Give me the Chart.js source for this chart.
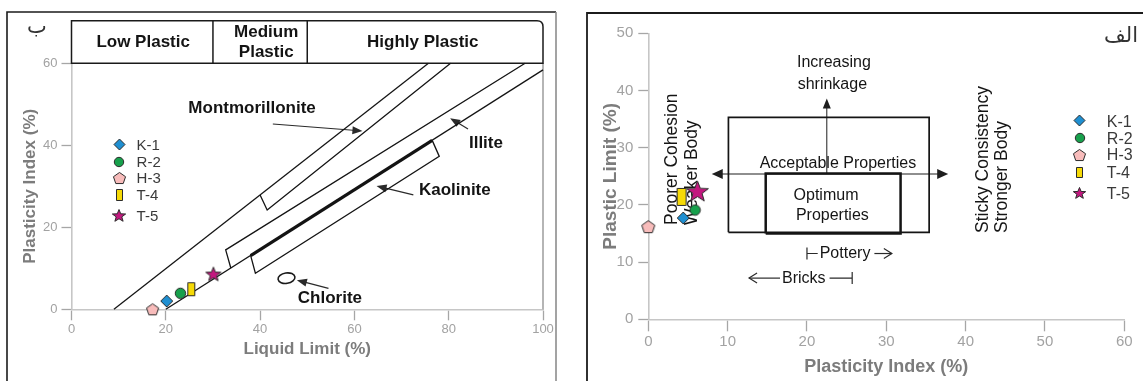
<!DOCTYPE html>
<html>
<head>
<meta charset="utf-8">
<title>Plasticity charts</title>
<script src="https://cdn.jsdelivr.net/npm/chart.js@4.4.1/dist/chart.umd.min.js"></script>
<style>
  html, body { margin: 0; padding: 0; background: #ffffff; }
  #page { position: relative; width: 1143px; height: 381px; overflow: hidden; background: #fff; }
  #page canvas { position: absolute; top: 0; }
  #plasticityChart { left: 0; }
  #workabilityChart { left: 575px; }
</style>
</head>
<body>
<div id="page">
  <canvas id="plasticityChart" width="575" height="381"></canvas>
  <canvas id="workabilityChart" width="568" height="381"></canvas>
</div>
<script>
// ---- values ----
const samples = ["K-1", "R-2", "H-3", "T-4", "T-5"];
const sampleShapes = ["diamond", "circle", "pentagon", "bar", "star"];
const sampleColors = ["#1f8fd1", "#17a04c", "#f8bcbb", "#f6da07", "#c3187f"];

// left panel: liquid limit vs plasticity index
const liquidLimit = [20.2, 23.1, 17.2, 25.4, 30.1];
const plasticityIndexL = [2.0, 3.9, 0.0, 4.9, 8.6];

// right panel: plasticity index vs plastic limit
const plasticityIndexR = [4.4, 5.9, 0.0, 4.2, 6.2];
const plasticLimit = [17.7, 19.1, 16.2, 21.4, 22.4];

// guide lines of the left panel, [LL, PI]
const uLine = [[9, 0], [75.7, 60]];
const aLine = [[20, 0], [100, 58.4]];
const aLineKaolinite = [[38, 13.1], [76.5, 41.2]];
const montmorilloniteBand = [[40, 27.9], [41.5, 24.2], [80.4, 60]];
const illiteBand = [[33.8, 10.0], [32.7, 14.5], [96.2, 60]];
const kaoliniteBox = [[38, 13.1], [39, 8.8], [78, 37.3], [76.5, 41.2]];

const plasticClasses = ["Low Plastic", "Medium\nPlastic", "Highly Plastic"];
const classBounds = [0, 30, 50, 100];
const classLabelLL = [15.2, 41.3, 74.5];

const mineralNames = ["Montmorillonite", "Illite", "Kaolinite", "Chlorite"];
const mineralLabelAt = [[38.3, 49.1], [87.9, 40.6], [81.3, 28.9], [54.8, 2.8]];
const mineralArrows = [
  [[42.7, 45.2], [61.7, 43.5]],
  [[84.1, 44.0], [80.3, 46.6]],
  [[72.5, 27.9], [64.7, 30.1]],
  [[54.5, 5.1], [47.8, 7.1]]
];
const chloriteLoop = [45.6, 7.6];
const leftLegendLL = [10.1, 13.8];
const leftLegendPI = [40.2, 36.0, 32.0, 27.9, 22.8];

// right panel zones, [PI, PL]
const acceptableBox = [[10.1, 15.2], [35.4, 15.2], [35.4, 35.3], [10.1, 35.3], [10.1, 15.2]];
const optimumBox = [[14.8, 15.0], [31.8, 15.0], [31.8, 25.5], [14.8, 25.5], [14.8, 15.0]];
const shrinkageArrow = [[22.5, 25.4], [22.5, 38.6]];
const cohesionArrow = [[8.0, 25.4], [37.8, 25.4]];
const zoneTexts = [
  ["Increasing", 23.4, 44.8],
  ["shrinkage", 23.2, 41.0],
  ["Acceptable Properties", 23.9, 27.3],
  ["Optimum", 22.4, 21.7],
  ["Properties", 23.2, 18.1]
];
const sideTexts = [
  ["Poorer Cohesion", 2.95, 16.5],
  ["Weaker Body", 5.5, 16.5],
  ["Sticky Consistency", 42.2, 15.1],
  ["Stronger Body", 44.6, 15.1]
];
const potteryRange = [20.0, 24.8, 30.7, 11.5];   // bar, label, arrow tip, PL
const bricksRange = [12.7, 19.6, 25.7, 7.2];     // arrow tip, label, bar, PL
const rightLegendPI = [54.4, 57.8];
const rightLegendPL = [34.7, 31.7, 28.8, 25.7, 22.1];

// ---- styles ----
const FONT = "'Liberation Sans', Arial, Helvetica, sans-serif";
const leftMarkerSize = [[12, 12], [11, 11], [13, 12], [8, 14], [16, 15]];
const rightMarkerSize = [[12, 12], [11, 11], [14, 13], [10, 18], [23, 22]];
const leftKeySize = [[11, 11], [10, 10], [13, 12], [7, 12], [14, 13]];
const rightKeySize = [[11, 11], [10, 10], [13, 12], [7, 11], [13, 12]];

function makeMarker(shape, color, w, h) {
    const c = document.createElement("canvas");
    c.width = w + 2;
    c.height = h + 2;
    const g = c.getContext("2d");
    const cx = c.width / 2, cy = c.height / 2, rx = w / 2, ry = h / 2;
    g.fillStyle = color;
    g.strokeStyle = "#2b2b2b";
    g.lineWidth = 1;
    g.beginPath();
    if (shape === "diamond") {
        g.moveTo(cx, cy - ry); g.lineTo(cx + rx, cy); g.lineTo(cx, cy + ry); g.lineTo(cx - rx, cy);
    } else if (shape === "circle") {
        g.ellipse(cx, cy, rx - 0.3, ry - 0.3, 0, 0, Math.PI * 2);
    } else if (shape === "pentagon") {
        for (let i = 0; i < 5; i++) {
            const a = -Math.PI / 2 + i * 2 * Math.PI / 5;
            const x = cx + rx * 0.98 * Math.cos(a), y = cy + ry * 0.1 + ry * 1.02 * Math.sin(a);
            i ? g.lineTo(x, y) : g.moveTo(x, y);
        }
    } else if (shape === "bar") {
        g.rect(cx - rx + 0.5, cy - ry + 0.5, w - 1, h - 1);
    } else if (shape === "star") {
        for (let i = 0; i < 10; i++) {
            const a = -Math.PI / 2 + i * Math.PI / 5;
            const k = i % 2 ? 0.42 : 1;
            const x = cx + rx * k * Math.cos(a), y = cy + ry * 0.08 + ry * k * Math.sin(a);
            i ? g.lineTo(x, y) : g.moveTo(x, y);
        }
    }
    g.closePath();
    g.fill();
    g.stroke();
    return c;
}

function makeSet(sizes) {
    return samples.map((s, i) => makeMarker(sampleShapes[i], sampleColors[i], sizes[i][0], sizes[i][1]));
}

const leftMarkers = makeSet(leftMarkerSize);
const rightMarkers = makeSet(rightMarkerSize);
const leftKeys = makeSet(leftKeySize);
const rightKeys = makeSet(rightKeySize);

// Helpers
function guide(points, width) {
    return {
        data: points.map(p => ({ x: p[0], y: p[1] })),
        showLine: true,
        borderColor: "#141414",
        borderWidth: width,
        pointRadius: 0,
        pointHoverRadius: 0,
        fill: false,
        clip: false,
        order: 2
    };
}

function sampleSets(xs, ys, markers) {
    return samples.map((name, i) => ({
        label: name,
        data: [{ x: xs[i], y: ys[i] }],
        pointStyle: markers[i],
        pointRadius: 8,
        pointHoverRadius: 8,
        clip: false,
        order: 0
    }));
}

function label(ctx, str, x, y, size, opts = {}) {
    ctx.save();
    ctx.font = (opts.bold ? "bold " : "") + size + "px " + (opts.family || FONT);
    ctx.fillStyle = opts.color || "#111";
    ctx.textAlign = opts.align || "center";
    ctx.textBaseline = "middle";
    ctx.translate(x, y);
    if (opts.rotate) ctx.rotate(opts.rotate);
    ctx.fillText(str, 0, 0);
    ctx.restore();
}

function arrow(ctx, x1, y1, x2, y2, opts = {}) {
    const len = opts.head || 9, half = opts.half || 3.5;
    const a = Math.atan2(y2 - y1, x2 - x1);
    ctx.save();
    ctx.strokeStyle = ctx.fillStyle = opts.color || "#222";
    ctx.lineWidth = opts.width || 1.1;
    ctx.beginPath();
    ctx.moveTo(x1, y1);
    ctx.lineTo(x2 - (opts.open ? 0 : Math.cos(a) * len * 0.6), y2 - (opts.open ? 0 : Math.sin(a) * len * 0.6));
    ctx.stroke();
    const bx = x2 - Math.cos(a) * len, by = y2 - Math.sin(a) * len;
    const nx = -Math.sin(a) * half, ny = Math.cos(a) * half;
    ctx.beginPath();
    ctx.moveTo(bx + nx, by + ny);
    ctx.lineTo(x2, y2);
    ctx.lineTo(bx - nx, by - ny);
    if (opts.open) {
        ctx.stroke();
    } else {
        ctx.closePath();
        ctx.fill();
    }
    ctx.restore();
}

function scaleOptions(min, max, step, title, o) {
    return {
        type: "linear",
        min: min,
        max: max,
        ticks: { stepSize: step, color: "#a2a2a2", font: { family: FONT, size: o.tickSize }, padding: o.tickPad },
        grid: { display: true, drawOnChartArea: false, tickLength: o.tickLen, tickColor: "#a6a6a6", tickWidth: 1.3 },
        border: { display: true, color: "#c6c6c6", width: 1.6 },
        title: { display: true, text: title, color: "#7c7c7c", font: { family: FONT, size: o.titleSize, weight: "bold" }, padding: o.titlePad },
        afterFit: o.fit
    };
}

// Left panel decorations
const plasticityDecor = {
    id: "plasticityDecor",
    beforeDatasetsDraw(chart) {
        const { ctx, chartArea: area } = chart;
        const xs = chart.scales.x, ys = chart.scales.y;
        const P = (v) => [xs.getPixelForValue(v[0]), ys.getPixelForValue(v[1])];

        ctx.save();
        // outer frame
        ctx.strokeStyle = "#1b1b1b";
        ctx.lineWidth = 1.6;
        ctx.beginPath();
        ctx.moveTo(7, 390); ctx.lineTo(7, 12); ctx.lineTo(556, 12);
        ctx.stroke();
        ctx.strokeStyle = "#8c8c8c";
        ctx.beginPath();
        ctx.moveTo(556, 12); ctx.lineTo(556, 390);
        ctx.stroke();
        // right border of the plot
        ctx.strokeStyle = "#9c9c9c";
        ctx.lineWidth = 1.5;
        ctx.beginPath();
        ctx.moveTo(area.right, area.top); ctx.lineTo(area.right, area.bottom);
        ctx.stroke();

        // plasticity class header
        const hTop = 20.7, hBot = area.top;
        const hl = xs.getPixelForValue(classBounds[0]);
        const hr = xs.getPixelForValue(classBounds[classBounds.length - 1]);
        const rad = 6;
        ctx.strokeStyle = "#1a1a1a";
        ctx.lineWidth = 1.5;
        ctx.beginPath();
        ctx.moveTo(hl, hBot); ctx.lineTo(hl, hTop); ctx.lineTo(hr - rad, hTop);
        ctx.quadraticCurveTo(hr, hTop, hr, hTop + rad);
        ctx.lineTo(hr, hBot); ctx.closePath();
        ctx.stroke();
        classBounds.slice(1, -1).forEach(b => {
            const x = xs.getPixelForValue(b);
            ctx.beginPath(); ctx.moveTo(x, hTop); ctx.lineTo(x, hBot); ctx.stroke();
        });
        const hMid = (hTop + hBot) / 2;
        plasticClasses.forEach((name, i) => {
            const lines = name.split("\n");
            const x = xs.getPixelForValue(classLabelLL[i]);
            lines.forEach((ln, j) => {
                label(ctx, ln, x, hMid + (j - (lines.length - 1) / 2) * 20, 17, { bold: true, color: "#141414" });
            });
        });

        // mineral labels and pointers
        mineralNames.forEach((name, i) => {
            const [x, y] = P(mineralLabelAt[i]);
            label(ctx, name, x, y, 17, { bold: true, color: "#141414" });
            const [a, b] = mineralArrows[i];
            const [x1, y1] = P(a), [x2, y2] = P(b);
            arrow(ctx, x1, y1, x2, y2, { head: 10, half: 4, color: "#2a2a2a", width: 1.2 });
        });
        const [lx, ly] = P(chloriteLoop);
        ctx.strokeStyle = "#1a1a1a";
        ctx.lineWidth = 1.6;
        ctx.beginPath();
        ctx.ellipse(lx, ly, 8.5, 5.2, -0.15, 0, Math.PI * 2);
        ctx.stroke();

        // Arabic panel letter
        label(ctx, "ب", 37, 28, 21, { family: "'DejaVu Sans', 'Noto Sans', sans-serif", color: "#333" });
        ctx.restore();
    },
    afterDatasetsDraw(chart) {
        const { ctx } = chart;
        const xs = chart.scales.x, ys = chart.scales.y;
        const mx = xs.getPixelForValue(leftLegendLL[0]), tx = xs.getPixelForValue(leftLegendLL[1]);
        samples.forEach((name, i) => {
            const y = ys.getPixelForValue(leftLegendPI[i]);
            const k = leftKeys[i];
            ctx.drawImage(k, Math.round(mx - k.width / 2), Math.round(y - k.height / 2));
            label(ctx, name, tx, y + 1, 15, { align: "left", color: "#3a3a3a" });
        });
    }
};

// Right panel decorations
const workabilityDecor = {
    id: "workabilityDecor",
    beforeDatasetsDraw(chart) {
        const { ctx } = chart;
        const xs = chart.scales.x, ys = chart.scales.y;
        const P = (v) => [xs.getPixelForValue(v[0]), ys.getPixelForValue(v[1])];

        ctx.save();
        ctx.strokeStyle = "#1b1b1b";
        ctx.lineWidth = 1.8;
        ctx.beginPath();
        ctx.moveTo(12, 390); ctx.lineTo(12, 13); ctx.lineTo(580, 13);
        ctx.stroke();

        zoneTexts.forEach(t => {
            const [x, y] = P([t[1], t[2]]);
            label(ctx, t[0], x, y, 16, { color: "#151515" });
        });
        sideTexts.forEach(t => {
            const [x, y] = P([t[1], t[2]]);
            label(ctx, t[0], x, y, 17.5, { color: "#151515", align: "left", rotate: -Math.PI / 2 });
        });

        // shrinkage and cohesion arrows
        let [a, b] = shrinkageArrow.map(P);
        arrow(ctx, a[0], a[1], b[0], b[1], { head: 10, half: 4, color: "#1e1e1e", width: 1 });
        [a, b] = cohesionArrow.map(P);
        arrow(ctx, (a[0] + b[0]) / 2, a[1], a[0], a[1], { head: 11, half: 5, color: "#1e1e1e", width: 1.2 });
        arrow(ctx, (a[0] + b[0]) / 2, b[1], b[0], b[1], { head: 11, half: 5, color: "#1e1e1e", width: 1.2 });

        // pottery / bricks ranges
        ctx.font = "16px " + FONT;
        const py = ys.getPixelForValue(potteryRange[3]);
        const pBar = xs.getPixelForValue(potteryRange[0]), pMid = xs.getPixelForValue(potteryRange[1]), pTip = xs.getPixelForValue(potteryRange[2]);
        const pw = ctx.measureText("Pottery").width;
        label(ctx, "Pottery", pMid, py, 16, { color: "#151515" });
        ctx.strokeStyle = "#2a2a2a";
        ctx.lineWidth = 1.2;
        ctx.beginPath();
        ctx.moveTo(pBar, py - 6); ctx.lineTo(pBar, py + 6);
        ctx.moveTo(pBar, py); ctx.lineTo(pMid - pw / 2 - 2, py);
        ctx.stroke();
        arrow(ctx, pMid + pw / 2 + 4, py, pTip, py, { open: true, head: 8, half: 5, color: "#2a2a2a", width: 1.2 });

        const by = ys.getPixelForValue(bricksRange[3]);
        const bTip = xs.getPixelForValue(bricksRange[0]), bMid = xs.getPixelForValue(bricksRange[1]), bBar = xs.getPixelForValue(bricksRange[2]);
        const bw = ctx.measureText("Bricks").width;
        label(ctx, "Bricks", bMid, by, 16, { color: "#151515" });
        arrow(ctx, bMid - bw / 2 - 2, by, bTip, by, { open: true, head: 8, half: 5, color: "#2a2a2a", width: 1.2 });
        ctx.beginPath();
        ctx.moveTo(bMid + bw / 2 + 4, by); ctx.lineTo(bBar, by);
        ctx.moveTo(bBar, by - 6); ctx.lineTo(bBar, by + 6);
        ctx.stroke();

        label(ctx, "الف", 546, 37, 21, { family: "'DejaVu Sans', 'Noto Sans', sans-serif", color: "#333" });
        ctx.restore();
    },
    afterDatasetsDraw(chart) {
        const { ctx } = chart;
        const xs = chart.scales.x, ys = chart.scales.y;
        const mx = xs.getPixelForValue(rightLegendPI[0]), tx = xs.getPixelForValue(rightLegendPI[1]);
        samples.forEach((name, i) => {
            const y = ys.getPixelForValue(rightLegendPL[i]);
            const k = rightKeys[i];
            ctx.drawImage(k, Math.round(mx - k.width / 2), Math.round(y - k.height / 2));
            label(ctx, name, tx, y + 1.5, 16, { align: "left", color: "#3a3a3a" });
        });
    }
};

Chart.defaults.font.family = FONT;

new Chart(document.getElementById("plasticityChart"), {
    type: "scatter",
    data: {
        datasets: [
            ...sampleSets(liquidLimit, plasticityIndexL, leftMarkers),
            guide(uLine, 1.3),
            guide(aLine, 1.3),
            guide(aLineKaolinite, 3.2),
            guide(montmorilloniteBand, 1.3),
            guide(illiteBand, 1.3),
            guide(kaoliniteBox, 1.3)
        ]
    },
    options: {
        responsive: false,
        animation: false,
        events: [],
        layout: { padding: { left: 0, top: 63.3, right: 32, bottom: 0 } },
        plugins: { legend: { display: false }, tooltip: { enabled: false } },
        scales: {
            x: scaleOptions(0, 100, 20, "Liquid Limit (%)", {
                tickSize: 13, tickPad: 1, tickLen: 11, titleSize: 17,
                titlePad: { top: 0, bottom: 21 }, fit: s => { s.height = 71.7; }
            }),
            y: scaleOptions(0, 60, 20, "Plasticity Index (%)", {
                tickSize: 13, tickPad: 4, tickLen: 10, titleSize: 17,
                titlePad: { top: 20, bottom: 0 }, fit: s => { s.width = 71.5; }
            })
        }
    },
    plugins: [plasticityDecor]
});

new Chart(document.getElementById("workabilityChart"), {
    type: "scatter",
    data: {
        datasets: [
            ...sampleSets(plasticityIndexR, plasticLimit, rightMarkers),
            guide(acceptableBox, 1.7),
            guide(optimumBox, 2.5)
        ]
    },
    options: {
        responsive: false,
        animation: false,
        events: [],
        layout: { padding: { left: 0, top: 33.3, right: 18.7, bottom: 0 } },
        plugins: { legend: { display: false }, tooltip: { enabled: false } },
        scales: {
            x: scaleOptions(0, 60, 10, "Plasticity Index (%)", {
                tickSize: 15, tickPad: 2, tickLen: 12, titleSize: 18,
                titlePad: { top: 0, bottom: 3 }, fit: s => { s.height = 61.7; }
            }),
            y: scaleOptions(0, 50, 10, "Plastic Limit (%)", {
                tickSize: 15, tickPad: 5, tickLen: 10, titleSize: 19,
                titlePad: { top: 24, bottom: 0 }, fit: s => { s.width = 73.3; }
            })
        }
    },
    plugins: [workabilityDecor]
});
</script>
</body>
</html>
